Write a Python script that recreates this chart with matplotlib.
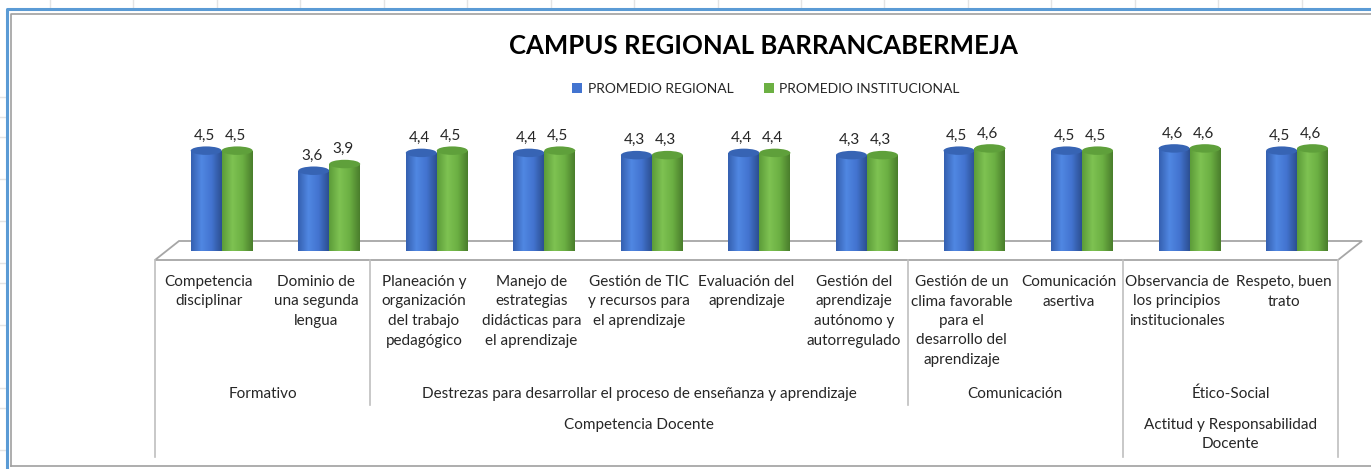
import numpy as np
import matplotlib
matplotlib.use('Agg')
import matplotlib.pyplot as plt
from matplotlib.patches import Ellipse, Polygon
from matplotlib.colors import LinearSegmentedColormap
import matplotlib.transforms as mtransforms

plt.rcParams['font.family'] = ['Lato', 'DejaVu Sans']

titulo = 'CAMPUS REGIONAL BARRANCABERMEJA'
series = ['PROMEDIO REGIONAL', 'PROMEDIO INSTITUCIONAL']
categorias = ['Competencia\ndisciplinar', 'Dominio de\nuna segunda\nlengua',
              'Planeación y\norganización\ndel trabajo\npedagógico',
              'Manejo de\nestrategias\ndidácticas para\nel aprendizaje',
              'Gestión de TIC\ny recursos para\nel aprendizaje',
              'Evaluación del\naprendizaje',
              'Gestión del\naprendizaje\nautónomo y\nautorregulado',
              'Gestión de un\nclima favorable\npara el\ndesarrollo del\naprendizaje',
              'Comunicación\nasertiva',
              'Observancia de\nlos principios\ninstitucionales',
              'Respeto, buen\ntrato']
regional = [4.5, 3.6, 4.4, 4.4, 4.3, 4.4, 4.3, 4.5, 4.5, 4.6, 4.5]
institucional = [4.5, 3.9, 4.5, 4.5, 4.3, 4.4, 4.3, 4.6, 4.5, 4.6, 4.6]
# grupos: (etiqueta, primera categoria, ultima categoria)
nivel2 = [('Formativo', 0, 1),
          ('Destrezas para desarrollar el proceso de enseñanza y aprendizaje', 2, 6),
          ('Comunicación', 7, 8), ('Ético-Social', 9, 10)]
nivel3 = [('Competencia Docente', 0, 8), ('Actitud y Responsabilidad\nDocente', 9, 10)]

W, H = 1371, 469
fig = plt.figure(figsize=(W / 100, H / 100), dpi=100)
fig.patch.set_facecolor('white')

# fondo en pixeles
bg = fig.add_axes([0, 0, 1, 1])
bg.set_xlim(0, W)
bg.set_ylim(H, 0)
bg.axis('off')

# rejilla de la hoja de calculo y marco del grafico
for gx in np.arange(50, W, 83.45):
    bg.plot([gx, gx], [0, 9], color='#E4E4E4', lw=1)
for gy in [97, 117, 137, 179, 221, 263, 283, 325, 388, 408, 450]:
    bg.plot([0, 6], [gy, gy], color='#E4E4E4', lw=1)
bg.plot([6.5, 6.5, W + 5], [H + 5, 9.5, 9.5], color='#5B9BD5', lw=2.2)
bg.plot([10.5, 10.5, W + 5], [466, 14, 14], color='#A0A0A0', lw=1.2)
bg.plot([10.5, W + 5], [466, 466], color='#A0A0A0', lw=1.2)

# ejes de barras
x0, x1 = 155, 1338
y0 = 251
upp = 22.3
ymax = 5
ax = fig.add_axes([x0 / W, (H - y0) / H, (x1 - x0) / W, ymax * upp / H])
ax.set_xlim(-0.5, 10.5)
ax.set_ylim(0, ymax)
ax.axis('off')
ax.patch.set_alpha(0)

tr = mtransforms.blended_transform_factory(ax.transData, bg.transData)

# piso 3D
prof = 24 / 107.5
piso = Polygon([[-0.5, 260], [10.5, 260], [10.5 + prof, 241], [-0.5 + prof, 241]],
               closed=True, facecolor='white', edgecolor='#A6A6A6', lw=1.3,
               transform=tr, zorder=1)
bg.add_patch(piso)

# lineas separadoras
for xs, yb in [(-0.5, 457), (1.5, 405), (6.5, 405), (8.5, 457), (10.5, 457)]:
    bg.plot([xs, xs], [260, yb], color='#BFBFBF', lw=1.2, transform=tr)

x = np.arange(len(categorias))
w = 0.288
dx = 0.12
colores = [('#3560B0', '#5087E2', '#4374D0', '#2C4F92', '#3764B4'),
           ('#5C9C39', '#7EC252', '#6CB043', '#4A7E2C', '#5FA03B')]
eh = 0.38

for k, (vals, col) in enumerate([(regional, colores[0]), (institucional, colores[1])]):
    cmap = LinearSegmentedColormap.from_list('c%d' % k, [col[0], col[1], col[2], col[3]])
    grad = np.linspace(0, 1, 64).reshape(1, -1)
    pos = x + dx + (k - 0.5) * w
    bars = ax.bar(pos, vals, width=w, color=col[2], label=series[k], zorder=3 + k)
    for b, v in zip(bars, vals):
        bx = b.get_x()
        fondo = Ellipse((bx + w / 2, 0), w, eh, facecolor='none', edgecolor='none')
        ax.add_patch(fondo)
        im = ax.imshow(grad, cmap=cmap, extent=(bx, bx + w, -eh / 2, 0), aspect='auto',
                       zorder=3 + k)
        im.set_clip_path(fondo)
        im2 = ax.imshow(grad, cmap=cmap, extent=(bx, bx + w, 0, v), aspect='auto',
                        zorder=3 + k)
        im2.set_clip_path(b)
        ax.add_patch(Ellipse((bx + w / 2, v), w, eh, facecolor=col[4],
                             edgecolor='none', zorder=3.5 + k))
        ax.text(bx + w / 2 - 0.02, v + 0.36, ('%.1f' % v).replace('.', ','),
                ha='center', va='bottom', fontsize=11, color='#262626', zorder=6)

ax.set_xlim(-0.5, 10.5)
ax.set_ylim(0, ymax)

# etiquetas de categorias
for i, c in enumerate(categorias):
    bg.text(i, 275, c, ha='center', va='top', fontsize=11, color='#262626',
            linespacing=1.5, transform=tr)
for txt, a, b in nivel2:
    bg.text((a + b) / 2, 394, txt, ha='center', va='center', fontsize=11,
            color='#262626', transform=tr)
for txt, a, b in nivel3:
    bg.text((a + b) / 2, 418, txt, ha='center', va='top', fontsize=11,
            color='#262626', linespacing=1.5, transform=tr)

fig.text(763 / W, 1 - 46 / H, titulo, ha='center', va='center', fontsize=18.5,
         fontweight='bold', color='black')
ax.legend(loc='center', bbox_to_anchor=(766 / W, 1 - 89 / H), bbox_transform=fig.transFigure,
          ncol=2, frameon=False, handlelength=0.7, handleheight=0.7, handletextpad=0.4,
          columnspacing=2.2, fontsize=10, labelcolor='#262626')

fig.savefig('out.png', dpi=100)
